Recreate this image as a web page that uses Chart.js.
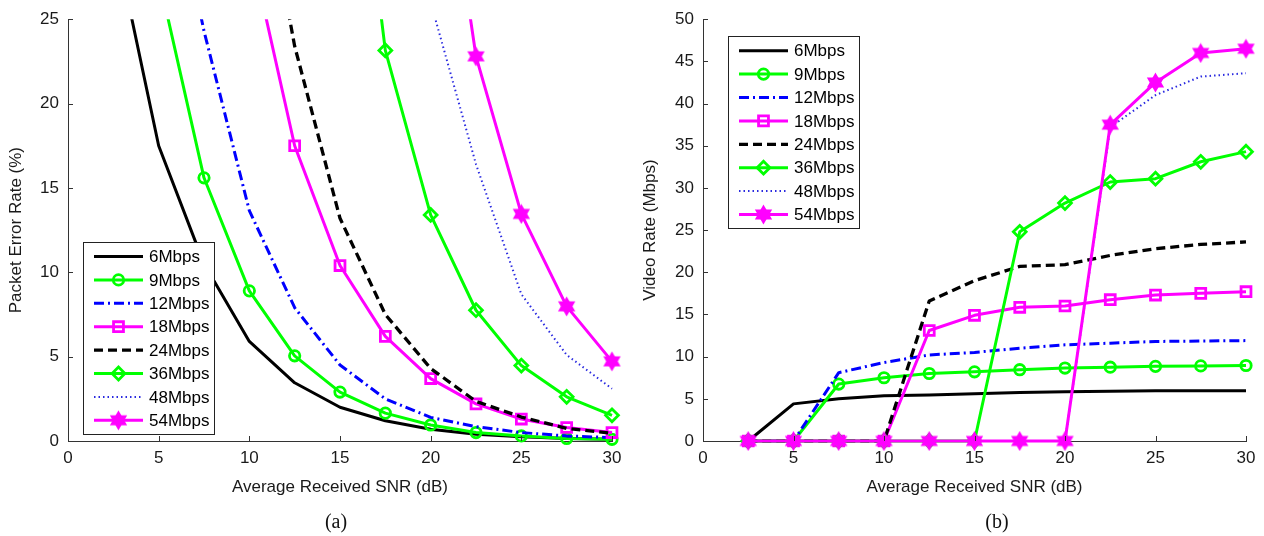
<!DOCTYPE html>
<html>
<head>
<meta charset="utf-8">
<script src="https://cdn.jsdelivr.net/npm/chart.js@4.4.1/dist/chart.umd.min.js"></script>
<style>
  body { margin: 0; background: #fff; }
  .panel { position: absolute; top: 0; width: 632px; height: 536px; }
  .caption { position: absolute; top: 510px; width: 60px; margin-left: -30px; text-align: center;
             font: 20px "Liberation Serif", "Times New Roman", serif; line-height: 22px; color: #111; }
</style>
</head>
<body>
<div class="panel" style="left:0"><canvas id="perChart" width="632" height="536"></canvas></div>
<div class="panel" style="left:632px"><canvas id="rateChart" width="632" height="536"></canvas></div>
<div class="caption" style="left:336px">(a)</div>
<div class="caption" style="left:997px">(b)</div>
<script>
// SNR sample points (dB)
const snr = [2.5, 5, 7.5, 10, 12.5, 15, 17.5, 20, 22.5, 25, 27.5, 30];
const rates = ['6Mbps', '9Mbps', '12Mbps', '18Mbps', '24Mbps', '36Mbps', '48Mbps', '54Mbps'];

// packet error rate (%) per PHY rate
const per6  = [30.2, 17.5, 10.5, 5.9, 3.45, 2.0, 1.2, 0.7, 0.4, 0.25, 0.15, 0.1];
const per9  = [40, 27.5, 15.6, 8.9, 5.05, 2.9, 1.65, 0.95, 0.5, 0.3, 0.15, 0.1];
const per12 = [52, 37, 24.3, 13.65, 7.9, 4.5, 2.5, 1.4, 0.85, 0.5, 0.3, 0.2];
const per18 = [70, 52, 40, 29.5, 17.5, 10.4, 6.2, 3.7, 2.2, 1.3, 0.8, 0.5];
const per24 = [75, 60, 48, 38, 23.4, 13.2, 7.5, 4.3, 2.35, 1.42, 0.75, 0.45];
const per36 = [90, 80, 68, 58, 50, 45, 23.15, 13.4, 7.75, 4.47, 2.62, 1.52];
const per48 = [95, 88, 78, 65, 52, 40, 33, 26.0, 16.4, 8.7, 5.1, 3.1];
const per54 = [98, 95, 90, 80, 70, 60, 50, 41, 22.8, 13.46, 7.98, 4.72];

// video rate (Mbps) per PHY rate
const vr6  = [0, 4.4, 5.0, 5.35, 5.45, 5.6, 5.75, 5.85, 5.9, 5.95, 5.95, 5.95];
const vr9  = [0, 0, 6.75, 7.5, 8.0, 8.2, 8.45, 8.65, 8.75, 8.85, 8.9, 8.95];
const vr12 = [0, 0, 8.1, 9.3, 10.2, 10.5, 11.0, 11.4, 11.6, 11.8, 11.85, 11.9];
const vr18 = [0, 0, 0, 0, 13.1, 14.9, 15.85, 16.0, 16.75, 17.3, 17.5, 17.7];
const vr24 = [0, 0, 0, 0, 16.6, 19.0, 20.7, 20.9, 22.0, 22.8, 23.3, 23.6];
const vr36 = [0, 0, 0, 0, 0, 0, 24.8, 28.2, 30.7, 31.1, 33.1, 34.3];
const vr48 = [0, 0, 0, 0, 0, 0, 0, 0, 37.2, 41.0, 43.2, 43.6];
const vr54 = [0, 0, 0, 0, 0, 0, 0, 0, 37.5, 42.5, 46.0, 46.5];

const perTicks = [0, 5, 10, 15, 20, 25];
const rateTicks = [0, 5, 10, 15, 20, 25, 30, 35, 40, 45, 50];

const FONT = '"Liberation Sans", Arial, Helvetica, sans-serif';
const AXIS = '#333';
const GREEN = '#00ff00', MAGENTA = '#ff00ff', BLUE = '#0000ff';

// six-pointed star marker
function hexagram(color, r) {
    const c = document.createElement('canvas');
    const s = Math.ceil(r * 2 + 4);
    c.width = c.height = s;
    const g = c.getContext('2d');
    const m = s / 2;
    g.fillStyle = color;
    g.strokeStyle = color;
    g.lineWidth = 1.5;
    [-Math.PI / 2, Math.PI / 2].forEach(off => {
        g.beginPath();
        for (let k = 0; k < 3; k++) {
            const a = off + k * 2 * Math.PI / 3;
            g.lineTo(m + r * Math.cos(a), m + r * Math.sin(a));
        }
        g.closePath();
        g.fill();
        g.stroke();
    });
    return c;
}

const styles = [
    { color: '#000', dash: [], marker: false },
    { color: GREEN, dash: [], marker: 'circle', radius: 5.2 },
    { color: BLUE, dash: [10, 4, 2, 4], marker: false },
    { color: MAGENTA, dash: [], marker: 'rect', radius: 7 },
    { color: '#000', dash: [9, 5], marker: false, width: 3.3 },
    { color: GREEN, dash: [], marker: 'rectRot', radius: 6.4 },
    { color: '#2a2ae0', dash: [1.5, 3], marker: false, width: 2 },
    { color: MAGENTA, dash: [], marker: hexagram(MAGENTA, 8.5), radius: 8 }
];

function buildDatasets(series, clip) {
    return series.map((vals, i) => {
        const st = styles[i];
        return {
            label: rates[i],
            data: vals.map((v, k) => ({ x: snr[k], y: v })),
            borderColor: st.color,
            borderWidth: st.width || 3,
            borderDash: st.dash,
            borderJoinStyle: 'round',
            pointStyle: st.marker || 'circle',
            pointRadius: st.marker ? st.radius : 0,
            pointBorderWidth: 2.8,
            pointBorderColor: st.color,
            pointBackgroundColor: 'rgba(0,0,0,0)',
            order: series.length - i,
            tension: 0,
            clip: clip
        };
    });
}

// small tick marks pointing into the plot
const insideTicks = {
    id: 'insideTicks',
    afterDatasetsDraw(chart) {
        const { ctx, chartArea, scales } = chart;
        ctx.save();
        ctx.strokeStyle = AXIS;
        ctx.lineWidth = 1;
        ctx.beginPath();
        scales.x.ticks.forEach(t => {
            const px = Math.round(scales.x.getPixelForValue(t.value)) + 0.5;
            ctx.moveTo(px, chartArea.bottom);
            ctx.lineTo(px, chartArea.bottom - 5);
        });
        scales.y.ticks.forEach(t => {
            const py = Math.round(scales.y.getPixelForValue(t.value)) + 0.5;
            ctx.moveTo(chartArea.left, py);
            ctx.lineTo(chartArea.left + 5, py);
        });
        ctx.stroke();
        ctx.restore();
    }
};

// boxed legend with line samples
const boxLegend = {
    id: 'boxLegend',
    afterDraw(chart, args, opts) {
        const { ctx, chartArea } = chart;
        const rowH = 23.4, w = 131, h = 192;
        const x0 = chartArea.left + opts.dx;
        const y0 = opts.fromBottom ? chartArea.bottom - opts.dy - h : chartArea.top + opts.dy;
        ctx.save();
        ctx.fillStyle = '#fff';
        ctx.fillRect(x0, y0, w, h);
        ctx.strokeStyle = '#222';
        ctx.lineWidth = 1;
        ctx.strokeRect(Math.round(x0) + 0.5, Math.round(y0) + 0.5, w, h);
        chart.data.datasets.forEach((ds, i) => {
            const cy = y0 + 14.5 + i * rowH;
            ctx.save();
            ctx.strokeStyle = ds.borderColor;
            ctx.lineWidth = ds.borderWidth;
            ctx.setLineDash(ds.borderDash);
            ctx.beginPath();
            ctx.moveTo(x0 + 11, cy);
            ctx.lineTo(x0 + 60, cy);
            ctx.stroke();
            ctx.restore();
            if (ds.pointRadius > 0) {
                ctx.save();
                ctx.strokeStyle = ds.pointBorderColor;
                ctx.fillStyle = ds.pointBackgroundColor;
                ctx.lineWidth = ds.pointBorderWidth;
                Chart.helpers.drawPoint(ctx, {
                    pointStyle: ds.pointStyle, radius: ds.pointRadius,
                    borderWidth: ds.pointBorderWidth, rotation: 0
                }, x0 + 35.5, cy);
                ctx.restore();
            }
            ctx.fillStyle = '#000';
            ctx.font = '17px ' + FONT;
            ctx.textBaseline = 'middle';
            ctx.fillText(ds.label, x0 + 66, cy + 1);
        });
        ctx.restore();
    }
};

function axisOptions(yTicks, yTitle, yWidth, yTitlePad) {
    const tickFont = { family: FONT, size: 17 };
    return {
        x: {
            type: 'linear', min: 0, max: 30,
            afterBuildTicks: s => { s.ticks = [0, 5, 10, 15, 20, 25, 30].map(v => ({ value: v })); },
            afterFit: s => { s.height = 95; },
            grid: { display: false, drawTicks: false },
            border: { display: true, color: AXIS, width: 1 },
            ticks: { font: tickFont, color: '#1a1a1a', padding: 7, maxRotation: 0 },
            title: { display: true, text: 'Average Received SNR (dB)', font: tickFont, color: '#1a1a1a',
                     padding: { top: 0, bottom: 38 } }
        },
        y: {
            type: 'linear', min: yTicks[0], max: yTicks[yTicks.length - 1],
            afterBuildTicks: s => { s.ticks = yTicks.map(v => ({ value: v })); },
            afterFit: s => { s.width = yWidth; },
            grid: { display: false, drawTicks: false },
            border: { display: true, color: AXIS, width: 1 },
            ticks: { font: tickFont, color: '#1a1a1a', padding: 9 },
            title: { display: true, text: yTitle, font: tickFont, color: '#1a1a1a',
                     padding: { top: yTitlePad, bottom: 0 } }
        }
    };
}

new Chart(document.getElementById('perChart'), {
    type: 'line',
    data: { datasets: buildDatasets([per6, per9, per12, per18, per24, per36, per48, per54],
                                    { left: 10, top: 0, right: 10, bottom: 10 }) },
    options: {
        responsive: false,
        animation: false,
        events: [],
        layout: { padding: { left: 0, top: 12, right: 20, bottom: 0 } },
        scales: axisOptions(perTicks, 'Packet Error Rate (%)', 68, 6.5),
        plugins: {
            legend: { display: false },
            tooltip: { enabled: false },
            boxLegend: { dx: 15, dy: 7, fromBottom: true }
        }
    },
    plugins: [insideTicks, boxLegend]
});

new Chart(document.getElementById('rateChart'), {
    type: 'line',
    data: { datasets: buildDatasets([vr6, vr9, vr12, vr18, vr24, vr36, vr48, vr54],
                                    { left: 10, top: 10, right: 10, bottom: 10 }) },
    options: {
        responsive: false,
        animation: false,
        events: [],
        layout: { padding: { left: 0, top: 13, right: 18, bottom: 0 } },
        scales: axisOptions(rateTicks, 'Video Rate (Mbps)', 71, 8),
        plugins: {
            legend: { display: false },
            tooltip: { enabled: false },
            boxLegend: { dx: 25, dy: 17, fromBottom: false }
        }
    },
    plugins: [insideTicks, boxLegend]
});
</script>
</body>
</html>
